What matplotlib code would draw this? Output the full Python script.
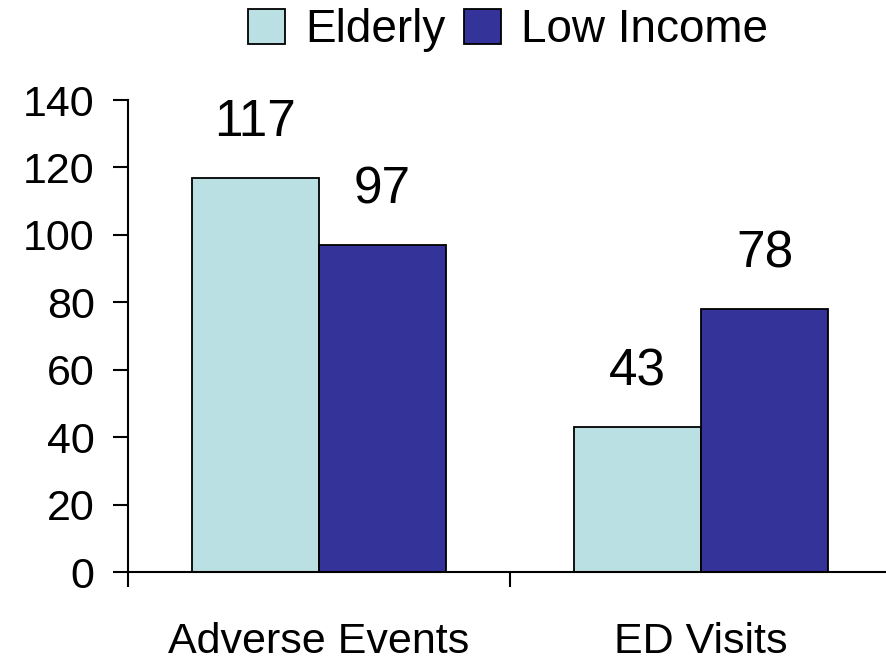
import numpy as np
import matplotlib.pyplot as plt

plt.rcParams['font.family'] = ['Liberation Sans', 'DejaVu Sans']

categories = ['Adverse Events', 'ED Visits']
elderly = [117, 43]
low_income = [97, 78]
series_names = ['Elderly', 'Low Income']
colors = ['#BBE0E3', '#333399']
yticks = [0, 20, 40, 60, 80, 100, 120, 140]

fig = plt.figure(figsize=(8.87, 6.66), dpi=100)
ax = fig.add_axes([128 / 887, 1 - 572 / 666, 764 / 887, 472 / 666])

x = np.arange(len(categories))
w = 1 / 3
bars = []
for off, vals, col, name in zip([-w / 2, w / 2], [elderly, low_income], colors, series_names):
    b = ax.bar(x + off, vals, w, color=col, edgecolor='black', linewidth=1.3, label=name)
    bars.append(b)
    for rect, v in zip(b, vals):
        ax.annotate(str(v), (rect.get_x() + rect.get_width() / 2, v),
                    xytext=(0, 30), textcoords='offset points',
                    ha='center', va='baseline', fontsize=37)

ax.set_xlim(-0.5, 1.5)
ax.set_ylim(0, 140)
ax.set_yticks(yticks)
ax.set_yticklabels([str(t) for t in yticks])
ax.set_xticks(x)
ax.set_xticklabels(categories)
ax.set_xticks([-0.5, 0.5, 1.5], minor=True)

for s in ['top', 'right']:
    ax.spines[s].set_visible(False)
for s in ['left', 'bottom']:
    ax.spines[s].set_linewidth(1.5)

ax.tick_params(axis='y', length=11, width=1.5, pad=13, labelsize=31)
ax.tick_params(axis='x', which='major', length=0, pad=36, labelsize=31)
ax.tick_params(axis='x', which='minor', length=11, width=1.5)

fig.legend(handles=bars, labels=series_names, loc='center',
           bbox_to_anchor=(508 / 887, 1 - 30 / 666), ncol=2, frameon=False,
           fontsize=33, handlelength=0.8, handleheight=0.8,
           handletextpad=0.45, columnspacing=0.4, borderpad=0)

fig.savefig('out.png', dpi=100)
